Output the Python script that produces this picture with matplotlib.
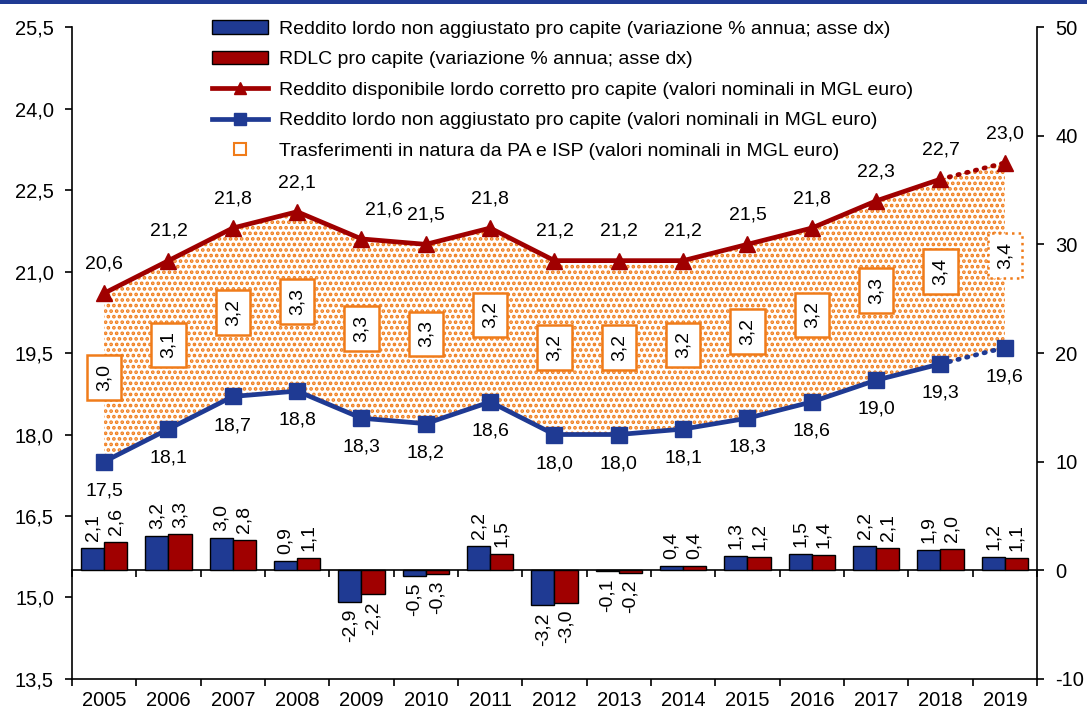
import numpy as np
import matplotlib
matplotlib.use("Agg")
import matplotlib.pyplot as plt
from matplotlib.patches import Patch, Rectangle
from matplotlib.lines import Line2D

plt.rcParams['font.family'] = ['Liberation Sans', 'DejaVu Sans']
plt.rcParams['hatch.linewidth'] = 1.8
plt.rcParams['axes.unicode_minus'] = False

anni = ['2005', '2006', '2007', '2008', '2009', '2010', '2011', '2012',
        '2013', '2014', '2015', '2016', '2017', '2018', '2019']

# variazioni % annue (asse dx)
var_lordo = [2.1, 3.2, 3.0, 0.9, -2.9, -0.5, 2.2, -3.2, -0.1, 0.4, 1.3, 1.5, 2.2, 1.9, 1.2]
var_rdlc = [2.6, 3.3, 2.8, 1.1, -2.2, -0.3, 1.5, -3.0, -0.2, 0.4, 1.2, 1.4, 2.1, 2.0, 1.1]

# valori nominali in migliaia di euro (asse sx)
rdlc = [20.6, 21.2, 21.8, 22.1, 21.6, 21.5, 21.8, 21.2, 21.2, 21.2, 21.5, 21.8, 22.3, 22.7, 23.0]
lordo = [17.5, 18.1, 18.7, 18.8, 18.3, 18.2, 18.6, 18.0, 18.0, 18.1, 18.3, 18.6, 19.0, 19.3, 19.6]
trasferimenti = [3.0, 3.1, 3.2, 3.3, 3.3, 3.3, 3.2, 3.2, 3.2, 3.2, 3.2, 3.2, 3.3, 3.4, 3.4]

blu = '#1F3A93'
rosso = '#A00000'
arancio = '#F07C1A'
fs = 14

def fmt(v):
    return f"{v:.1f}".replace('.', ',')

x = np.arange(len(anni))
fig = plt.figure(figsize=(10.87, 7.13), dpi=100)
ax = fig.add_axes([0.0662, 0.0477, 0.954 - 0.0662, 0.9621 - 0.0477])
ax2 = ax.twinx()

# striscia blu in alto
fig.add_artist(Rectangle((0, 0.994), 1, 0.006, transform=fig.transFigure,
                         color=blu, lw=0))

# area dei trasferimenti
ax.fill_between(x, lordo, rdlc, facecolor='none', edgecolor=arancio,
                hatch='...', linewidth=0, zorder=1)

# linee
ax.plot(x[:-1], rdlc[:-1], color=rosso, lw=3.4, zorder=4)
ax.plot(x[-2:], rdlc[-2:], color=rosso, lw=3.4, ls=(0, (0.3, 1.6)),
        dash_capstyle='round', zorder=4)
ax.plot(x, rdlc, ls='none', marker='^', ms=12, color=rosso, zorder=5)
ax.plot(x[:-1], lordo[:-1], color=blu, lw=3.4, zorder=4)
ax.plot(x[-2:], lordo[-2:], color=blu, lw=3.4, ls=(0, (0.3, 1.6)),
        dash_capstyle='round', zorder=4)
ax.plot(x, lordo, ls='none', marker='s', ms=11, color=blu, zorder=5)

dx_rdlc = [0, 0, 0, 0, 16, 0, 0, 0, 0, 0, 0, 0, 0, 0, 0]
for i in range(len(anni)):
    ax.annotate(fmt(rdlc[i]), (x[i], rdlc[i]), xytext=(dx_rdlc[i], 21),
                textcoords='offset points', ha='center', va='center',
                fontsize=fs, zorder=6)
    ax.annotate(fmt(lordo[i]), (x[i], lordo[i]), xytext=(0, -21),
                textcoords='offset points', ha='center', va='center',
                fontsize=fs, zorder=6)
    mid = (rdlc[i] + lordo[i]) / 2
    ax.text(x[i], mid, fmt(trasferimenti[i]), rotation=90, ha='center',
            va='center', fontsize=fs, zorder=6,
            bbox=dict(boxstyle='square,pad=0.45', fc='white', ec=arancio, lw=1.8,
                      ls=':' if i == len(anni) - 1 else '-'))

# barre
w = 0.36
ax2.bar(x - w / 2, var_lordo, w, color=blu, edgecolor='black', lw=1, zorder=3)
ax2.bar(x + w / 2, var_rdlc, w, color=rosso, edgecolor='black', lw=1, zorder=3)
for i in range(len(anni)):
    for xx, v in ((x[i] - w / 2, var_lordo[i]), (x[i] + w / 2, var_rdlc[i])):
        ax2.annotate(fmt(v), (xx, v), xytext=(0, 5 if v >= 0 else -5),
                     textcoords='offset points', ha='center',
                     va='bottom' if v >= 0 else 'top', rotation=90,
                     fontsize=fs)

# assi
ax.set_xlim(-0.5, len(anni) - 0.5)
ax.set_ylim(13.5, 25.5)
ax.set_yticks(np.arange(13.5, 25.6, 1.5))
ax.set_yticklabels([fmt(v) for v in np.arange(13.5, 25.6, 1.5)])
ax2.set_ylim(-10, 50)
ax2.set_yticks(range(-10, 51, 10))
ax.set_xticks(x)
ax.set_xticklabels(anni)
ax.set_xticks(np.arange(-0.5, len(anni)), minor=True)
ax.tick_params(axis='x', which='major', length=0, labelsize=fs + 0.5, pad=9)
ax.tick_params(axis='x', which='minor', length=5, width=1.2, direction='out')
ax.tick_params(axis='y', length=5, width=1.2, labelsize=fs + 0.5, pad=8)
ax2.tick_params(axis='y', length=5, width=1.2, labelsize=fs + 0.5, pad=8)

# linea dello zero con tacche
ax2.xaxis.set_visible(True)
ax2.spines['bottom'].set_position(('data', 0))
ax2.tick_params(axis='x', which='major', length=0, labelbottom=False)
ax2.tick_params(axis='x', which='minor', length=5, width=1.2, direction='out',
                labelbottom=False)
for a in (ax, ax2):
    a.spines['top'].set_visible(False)
    for s in a.spines.values():
        s.set_linewidth(1.2)
ax2.spines['left'].set_visible(False)
ax.spines['right'].set_visible(False)
ax2.set_zorder(ax.get_zorder() + 1)
ax2.patch.set_visible(False)

handles = [
    Patch(facecolor=blu, edgecolor='black'),
    Patch(facecolor=rosso, edgecolor='black'),
    Line2D([], [], color=rosso, lw=3.4, marker='^', ms=9),
    Line2D([], [], color=blu, lw=3.4, marker='s', ms=8),
    Line2D([], [], ls='none', marker='s', ms=8, mfc='white', mec=arancio, mew=1.5),
]
labels = [
    'Reddito lordo non aggiustato pro capite (variazione % annua; asse dx)',
    'RDLC pro capite (variazione % annua; asse dx)',
    'Reddito disponibile lordo corretto pro capite (valori nominali in MGL euro)',
    'Reddito lordo non aggiustato pro capite (valori nominali in MGL euro)',
    'Trasferimenti in natura da PA e ISP (valori nominali in MGL euro)',
]
fig.legend(handles, labels, loc='upper left', bbox_to_anchor=(0.186, 0.985),
           frameon=False, fontsize=fs, handlelength=2.9, handletextpad=0.55,
           labelspacing=0.66, borderpad=0)

fig.savefig('out.png', dpi=100)
